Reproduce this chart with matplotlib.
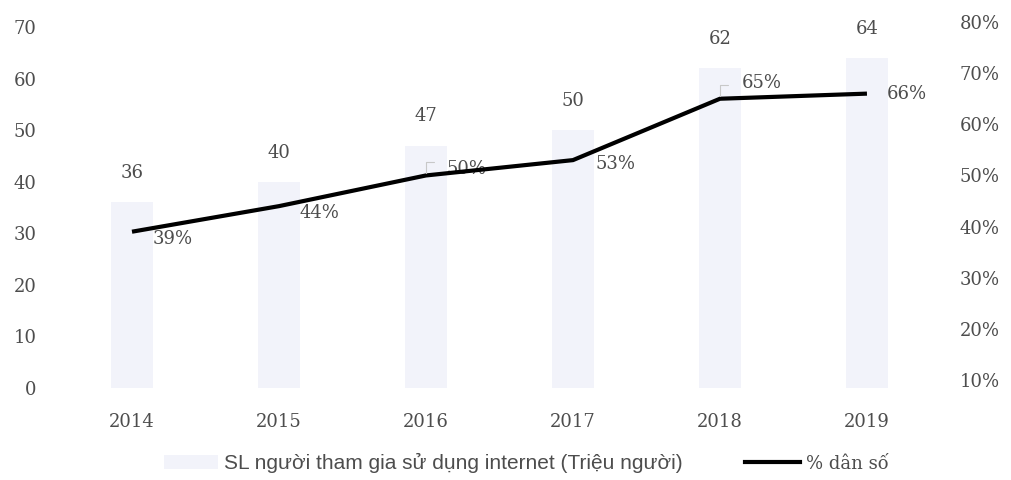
import matplotlib.pyplot as plt
from matplotlib.patches import Patch
from matplotlib.lines import Line2D

years = ["2014", "2015", "2016", "2017", "2018", "2019"]
users_million = [36, 40, 47, 50, 62, 64]
share_population = [0.39, 0.44, 0.50, 0.53, 0.65, 0.66]
share_labels = ["39%", "44%", "50%", "53%", "65%", "66%"]
left_ticks = [0, 10, 20, 30, 40, 50, 60, 70]
right_ticks = [0.1, 0.2, 0.3, 0.4, 0.5, 0.6, 0.7, 0.8]

bar_label = "SL người tham gia sử dụng internet (Triệu người)"
line_label = "% dân số"

serif = "DejaVu Serif"
sans = "Liberation Sans"
txt = "#4d4d4d"
bar_color = "#f2f3fa"
fs = 13

fig = plt.figure(figsize=(10.12, 4.8), dpi=100)
# left axis (users, millions)
ax = fig.add_axes([0.0578, 0.1917, 0.8715, 0.752])
# right axis (share of population), laid out slightly higher
ax2 = fig.add_axes([0.0578, 0.2083, 0.8715, 0.7458], sharex=ax)
ax2.patch.set_alpha(0)

x = list(range(len(years)))

ax.bar(x, users_million, width=0.29, color=bar_color, zorder=1)
ax.set_xlim(-0.5, len(years) - 0.5)
ax.set_ylim(0, 70)
ax.set_yticks(left_ticks)
ax.set_yticklabels([str(v) for v in left_ticks], family=serif, fontsize=fs, color=txt)
ax.set_xticks(x)
ax.set_xticklabels(years, family=serif, fontsize=fs, color=txt)
ax.tick_params(axis="x", length=0, pad=18)
ax.tick_params(axis="y", length=0, pad=16)
for s in ax.spines.values():
    s.set_visible(False)

for xi, v in zip(x, users_million):
    ax.annotate(str(v), (xi, v), xytext=(0, 21), textcoords="offset points",
                ha="center", va="center", family=serif, fontsize=fs, color=txt)

ax2.set_ylim(0.1, 0.8)
ax2.yaxis.tick_right()
ax2.set_yticks(right_ticks)
ax2.set_yticklabels([f"{int(round(v * 100))}%" for v in right_ticks],
                    family=serif, fontsize=fs, color=txt)
ax2.tick_params(axis="y", length=0, pad=14)
ax2.tick_params(axis="x", bottom=False, labelbottom=False)
for s in ax2.spines.values():
    s.set_visible(False)

ax2.plot(x, share_population, color="black", linewidth=3, solid_capstyle="butt", zorder=3)

offsets = [(15, -5), (15, -5), (15, 5), (16, -3), (16, 11), (14, 0)]
leaders = [False, False, True, False, True, False]
for xi, v, lab, off, lead in zip(x, share_population, share_labels, offsets, leaders):
    ax2.annotate(lab, (xi, v), xytext=off, textcoords="offset points",
                 ha="left", va="center", family=serif, fontsize=fs, color=txt,
                 zorder=2)
    if lead:
        ax2.annotate("", (xi, v), xytext=(6, 10), textcoords="offset points",
                     arrowprops=dict(arrowstyle="-", color="#c8c8c8", lw=0.8,
                                     connectionstyle="angle,angleA=0,angleB=90,rad=0",
                                     shrinkA=0, shrinkB=2))

handles = [Patch(facecolor=bar_color, edgecolor="none"),
           Line2D([], [], color="black", linewidth=3)]
leg = fig.legend(handles, [bar_label, line_label], loc="center",
                 bbox_to_anchor=(0.52, 0.035), ncol=2, frameon=False,
                 handlelength=2.6, handletextpad=0.3, columnspacing=3.0,
                 prop={"family": sans, "size": 15})
for t in leg.get_texts():
    t.set_color(txt)
leg.get_texts()[1].set_family(serif)
leg.get_texts()[1].set_fontsize(fs)

fig.savefig("out.png", dpi=100)
